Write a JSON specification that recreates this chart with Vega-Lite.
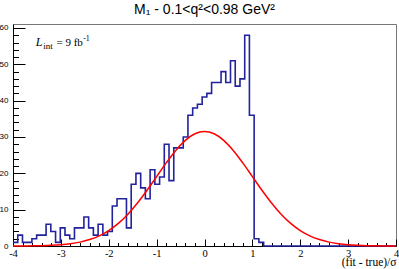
{
  "$schema": "https://vega.github.io/schema/vega-lite/v6.json",
  "width": 383,
  "height": 222,
  "autosize": {"type": "none"},
  "padding": {"left": 13, "top": 24, "right": 3, "bottom": 23},
  "background": "white",
  "title": {"text": "M₁ - 0.1<q²<0.98 GeV²", "font": "Liberation Sans", "fontSize": 14, "fontWeight": "normal", "color": "black", "anchor": "middle", "baseline": "alphabetic", "offset": -4},
  "config": {
    "view": {"stroke": "#777", "strokeWidth": 1},
    "axis": {"grid": false, "domainColor": "black", "tickColor": "black", "labelColor": "black", "titleColor": "black", "labelFlush": false, "labelOverlap": false}
  },
  "datasets": {
    "hist": [
      {"x": -4.000, "n": 1}, {"x": -3.901, "n": 3}, {"x": -3.802, "n": 1}, {"x": -3.704, "n": 1},
      {"x": -3.605, "n": 2}, {"x": -3.506, "n": 3}, {"x": -3.407, "n": 3}, {"x": -3.309, "n": 6},
      {"x": -3.210, "n": 4}, {"x": -3.111, "n": 1}, {"x": -3.012, "n": 5}, {"x": -2.914, "n": 3},
      {"x": -2.815, "n": 2}, {"x": -2.716, "n": 5}, {"x": -2.617, "n": 5}, {"x": -2.519, "n": 8},
      {"x": -2.420, "n": 5}, {"x": -2.321, "n": 3}, {"x": -2.222, "n": 6}, {"x": -2.123, "n": 3},
      {"x": -2.025, "n": 4}, {"x": -1.926, "n": 11}, {"x": -1.827, "n": 13}, {"x": -1.728, "n": 13},
      {"x": -1.630, "n": 5}, {"x": -1.531, "n": 17}, {"x": -1.432, "n": 20}, {"x": -1.333, "n": 16},
      {"x": -1.235, "n": 13}, {"x": -1.136, "n": 21}, {"x": -1.037, "n": 17}, {"x": -0.938, "n": 19},
      {"x": -0.840, "n": 28}, {"x": -0.741, "n": 18}, {"x": -0.642, "n": 27}, {"x": -0.543, "n": 27},
      {"x": -0.444, "n": 30}, {"x": -0.346, "n": 36}, {"x": -0.247, "n": 38}, {"x": -0.148, "n": 39},
      {"x": -0.049, "n": 41}, {"x": 0.049, "n": 42}, {"x": 0.148, "n": 45}, {"x": 0.247, "n": 45},
      {"x": 0.346, "n": 48}, {"x": 0.444, "n": 45}, {"x": 0.543, "n": 51}, {"x": 0.642, "n": 44},
      {"x": 0.741, "n": 46}, {"x": 0.840, "n": 58}, {"x": 0.938, "n": 36}, {"x": 1.037, "n": 2},
      {"x": 1.136, "n": 1}, {"x": 1.235, "n": 0}, {"x": 1.333, "n": 0}, {"x": 1.432, "n": 0},
      {"x": 1.531, "n": 0}, {"x": 1.630, "n": 0}, {"x": 1.728, "n": 0}, {"x": 1.827, "n": 0},
      {"x": 1.926, "n": 0}, {"x": 2.025, "n": 0}, {"x": 2.123, "n": 0}, {"x": 2.222, "n": 0},
      {"x": 2.321, "n": 0}, {"x": 2.420, "n": 0}, {"x": 2.519, "n": 0}, {"x": 2.617, "n": 0},
      {"x": 2.716, "n": 0}, {"x": 2.815, "n": 0}, {"x": 2.914, "n": 0}, {"x": 3.012, "n": 0},
      {"x": 3.111, "n": 0}, {"x": 3.210, "n": 0}, {"x": 3.309, "n": 0}, {"x": 3.407, "n": 0},
      {"x": 3.506, "n": 0}, {"x": 3.605, "n": 0}, {"x": 3.704, "n": 0}, {"x": 3.802, "n": 0},
      {"x": 3.901, "n": 0}, {"x": 4.000, "n": 0}
    ],
    "fit": [
      {"x": -4.0, "y": 0.011}, {"x": -3.8, "y": 0.023}, {"x": -3.6, "y": 0.048}, {"x": -3.4, "y": 0.097},
      {"x": -3.2, "y": 0.188}, {"x": -3.0, "y": 0.35}, {"x": -2.8, "y": 0.625}, {"x": -2.6, "y": 1.07},
      {"x": -2.4, "y": 1.77}, {"x": -2.2, "y": 2.80}, {"x": -2.0, "y": 4.26}, {"x": -1.8, "y": 6.23},
      {"x": -1.6, "y": 8.76}, {"x": -1.4, "y": 11.82}, {"x": -1.2, "y": 15.33}, {"x": -1.0, "y": 19.11},
      {"x": -0.8, "y": 22.87}, {"x": -0.6, "y": 26.31}, {"x": -0.4, "y": 29.08}, {"x": -0.2, "y": 30.88},
      {"x": 0.0, "y": 31.5},
      {"x": 0.2, "y": 30.88}, {"x": 0.4, "y": 29.08}, {"x": 0.6, "y": 26.31}, {"x": 0.8, "y": 22.87},
      {"x": 1.0, "y": 19.11}, {"x": 1.2, "y": 15.33}, {"x": 1.4, "y": 11.82}, {"x": 1.6, "y": 8.76},
      {"x": 1.8, "y": 6.23}, {"x": 2.0, "y": 4.26}, {"x": 2.2, "y": 2.80}, {"x": 2.4, "y": 1.77},
      {"x": 2.6, "y": 1.07}, {"x": 2.8, "y": 0.625}, {"x": 3.0, "y": 0.35}, {"x": 3.2, "y": 0.188},
      {"x": 3.4, "y": 0.097}, {"x": 3.6, "y": 0.048}, {"x": 3.8, "y": 0.023}, {"x": 4.0, "y": 0.011}
    ]
  },
  "layer": [
    {
      "data": {"name": "hist"},
      "mark": {"type": "line", "interpolate": "step-after", "color": "#22229c", "strokeWidth": 1.6},
      "encoding": {
        "x": {"field": "x", "type": "quantitative", "scale": {"domain": [-4, 4], "nice": false, "zero": false},
          "axis": {"orient": "bottom", "values": [-4, -3, -2, -1, 0, 1, 2, 3, 4], "ticks": false, "domain": true,
            "labelFont": "Liberation Serif", "labelFontSize": 10.5, "labelPadding": 2, "labelExpr": "'' + datum.value",
            "title": "(fit - true)/σ", "titleFont": "Liberation Serif", "titleFontSize": 11.5, "titleFontWeight": "normal",
            "titleAnchor": "end", "titleAlign": "right", "titleBaseline": "alphabetic", "titleY": 19.5}},
        "y": {"field": "n", "type": "quantitative", "scale": {"domain": [0, 61.1], "nice": false},
          "axis": {"orient": "left", "values": [0, 10, 20, 30, 40, 50, 60], "ticks": false, "domain": true,
            "labelFont": "Liberation Sans", "labelFontSize": 8, "labelPadding": 5, "title": null}}
      }
    },
    {
      "data": {"name": "fit"},
      "mark": {"type": "line", "interpolate": "monotone", "color": "#ff0000", "strokeWidth": 1.5},
      "encoding": {
        "x": {"field": "x", "type": "quantitative", "scale": {"domain": [-4, 4], "nice": false, "zero": false},
          "axis": {"orient": "bottom", "values": [-4, -3, -2, -1, 0, 1, 2, 3, 4], "labels": false, "domain": false, "tickSize": -7, "title": null}},
        "y": {"field": "y", "type": "quantitative", "scale": {"domain": [0, 61.1], "nice": false},
          "axis": {"orient": "left", "values": [0, 10, 20, 30, 40, 50, 60], "labels": false, "domain": false, "tickSize": -12, "title": null}}
      }
    },
    {
      "data": {"values": [{}]},
      "mark": {"type": "text", "text": "L", "font": "Liberation Serif", "fontStyle": "italic", "fontSize": 12, "align": "left", "baseline": "alphabetic", "color": "black"},
      "encoding": {
        "x": {"datum": -3.525, "type": "quantitative", "scale": {"domain": [-4, 4], "nice": false, "zero": false},
          "axis": {"orient": "bottom", "values": [-3.8, -3.6, -3.4, -3.2, -2.8, -2.6, -2.4, -2.2, -1.8, -1.6, -1.4, -1.2, -0.8, -0.6, -0.4, -0.2, 0.2, 0.4, 0.6, 0.8, 1.2, 1.4, 1.6, 1.8, 2.2, 2.4, 2.6, 2.8, 3.2, 3.4, 3.6, 3.8],
            "labels": false, "domain": false, "tickSize": -3.5, "title": null}},
        "y": {"datum": 54.93, "type": "quantitative", "scale": {"domain": [0, 61.1], "nice": false},
          "axis": {"orient": "left", "values": [2, 4, 6, 8, 12, 14, 16, 18, 22, 24, 26, 28, 32, 34, 36, 38, 42, 44, 46, 48, 52, 54, 56, 58],
            "labels": false, "domain": false, "tickSize": -5.5, "title": null}}
      }
    },
    {
      "data": {"values": [{}]},
      "mark": {"type": "text", "text": "int", "font": "Liberation Serif", "fontSize": 9, "align": "left", "baseline": "alphabetic", "color": "black"},
      "encoding": {
        "x": {"datum": -3.369, "type": "quantitative", "axis": null},
        "y": {"datum": 54.16, "type": "quantitative", "axis": null}
      }
    },
    {
      "data": {"values": [{}]},
      "mark": {"type": "text", "text": "= 9 fb", "font": "Liberation Serif", "fontSize": 11, "align": "left", "baseline": "alphabetic", "color": "black"},
      "encoding": {
        "x": {"datum": -3.093, "type": "quantitative", "axis": null},
        "y": {"datum": 54.93, "type": "quantitative", "axis": null}
      }
    },
    {
      "data": {"values": [{}]},
      "mark": {"type": "text", "text": "-1", "font": "Liberation Serif", "fontSize": 8, "align": "left", "baseline": "alphabetic", "color": "black"},
      "encoding": {
        "x": {"datum": -2.535, "type": "quantitative", "axis": null},
        "y": {"datum": 56.31, "type": "quantitative", "axis": null}
      }
    }
  ],
  "resolve": {"axis": {"x": "independent", "y": "independent"}}
}
